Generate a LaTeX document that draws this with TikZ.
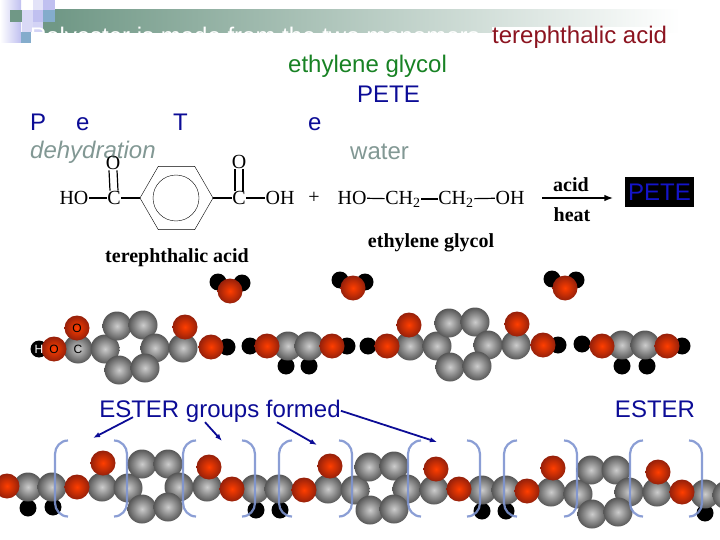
\documentclass[tikz,border=0pt]{standalone}
\usepackage{fontspec}
\setmainfont{Liberation Sans}
\newfontfamily\chemfont{Liberation Serif}
\usetikzlibrary{arrows.meta,positioning,shapes.geometric}
\definecolor{barGreen}{RGB}{112,152,134}
\definecolor{lavender}{RGB}{192,192,240}
\definecolor{steelTile}{RGB}{132,172,204}
\definecolor{titleBlue}{RGB}{12,12,150}
\definecolor{acidRed}{RGB}{140,20,32}
\definecolor{glycolGreen}{RGB}{24,130,36}
\definecolor{noteGray}{RGB}{130,152,148}
\definecolor{bracketBlue}{RGB}{126,148,208}
\begin{document}
\begin{tikzpicture}[
    x=1pt, y=-1pt,
    slide/.style={inner sep=0pt, anchor=base west, font=\fontsize{24}{28}\selectfont},
    chem/.style={inner sep=0.5pt, font=\chemfont\fontsize{20}{24}\selectfont},
    chemname/.style={inner sep=0pt, font=\chemfont\bfseries\fontsize{20}{24}\selectfont},
    bond/.style={line width=1.2pt},
    hydrogen/.style={circle, inner sep=0pt, minimum size=17pt, fill=black},
    carbon/.style={circle, inner sep=0pt, minimum size=29pt, inner color=black!20, outer color=black!66},
    oxygen/.style={circle, inner sep=0pt, minimum size=25pt, inner color={rgb,255:red,255;green,62;blue,0}, outer color={rgb,255:red,150;green,32;blue,10}},
    atomtext/.style={inner sep=0pt, font=\fontsize{12}{14}\selectfont},
    bracket/.style={draw=bracketBlue, line width=2.2pt, opacity=0.9},
    arrow/.style={-{Latex[length=2.5mm]}, line width=1.8pt, draw=titleBlue}
  ]
    \useasboundingbox (0,0) rectangle (720,540);
    \shade[left color=white, right color=lavender] (0,0) rectangle (21,43);
    \fill[lavender!45] (33,0) rectangle (43,10);
    \fill[lavender] (43,0) rectangle (55,10);
    \fill[barGreen] (10,10) rectangle (22,22);
    \fill[lavender!60] (22,10) rectangle (33,32);
    \fill[lavender] (33,10) rectangle (43,22);
    \fill[steelTile] (43,10) rectangle (55,22);
    \fill[lavender!70] (33,22) rectangle (43,32);
    \fill[steelTile] (21,32) rectangle (31,43);
    \shade[left color=barGreen, right color=white] (55,10) rectangle (680,33);
    \fill[barGreen] (43,22) rectangle (55,33);
    \node[slide, text=white] (title) at (30,45) {Polyester is made from the two monomers};
    \node[slide, text=acidRed, fill=white] (acidWord) at (492,44) {terephthalic acid};
    \node[slide, text=glycolGreen] (glycolWord) at (288,73) {ethylene glycol};
    \node[slide, text=titleBlue] (peteWord) at (357,103) {PETE};
    \node[slide, text=titleBlue] (letterP) at (30,131) {P};
    \node[slide, text=titleBlue] (letterE) at (76,131) {e};
    \node[slide, text=titleBlue] (letterT) at (173,131) {T};
    \node[slide, text=titleBlue] (letterF) at (308,131) {e};
    \node[slide, text=noteGray, font=\fontsize{24}{28}\selectfont\itshape] (dehydration) at (30,159) {dehydration};
    \node[slide, text=noteGray] (waterWord) at (350,160) {water};

    \node[chem] (hoLeft) at (74,198) {HO};
    \node[chem] (cLeft) at (114,198) {C};
    \node[chem] (oLeft) at (113,163) {O};
    \node[draw, regular polygon, regular polygon sides=6, minimum size=73pt, inner sep=0pt] (ring) at (176.5,198) {};
    \node[draw, circle, minimum size=46pt, inner sep=0pt] (ringCircle) at (176,198) {};
    \node[chem] (cRight) at (239,198) {C};
    \node[chem] (oRight) at (239,162) {O};
    \node[chem] (ohRight) at (280,198) {OH};
    \node[chem] (plus) at (314,198) {+};
    \node[chem] (hoGlycol) at (352,198) {HO};
    \node[chem] (chFirst) at (403,199) {CH\textsubscript{2}};
    \node[chem] (chSecond) at (456,199) {CH\textsubscript{2}};
    \node[chem] (ohGlycol) at (510,198) {OH};
    \node[chemname] (acidAbove) at (571,185) {acid};
    \node[chemname] (heatBelow) at (572,215) {heat};
    \node[fill=black, text={rgb,255:red,20;green,20;blue,200}, minimum width=69pt, minimum height=30pt, inner sep=0pt, font=\fontsize{24}{28}\selectfont] (peteBox) at (659.5,192) {PETE};
    \node[chemname] (acidName) at (177,258) {terephthalic acid};
    \node[chemname] (glycolName) at (431,243) {ethylene glycol};
    \draw[bond] (hoLeft) -- (cLeft);
    \draw[bond] (cLeft) -- (ring.west);
    \draw[bond] ([xshift=-4pt]oLeft.south) -- ([xshift=-4pt]cLeft.north);
    \draw[bond] ([xshift=4pt]oLeft.south) -- ([xshift=4pt]cLeft.north);
    \draw[bond] (ring.east) -- (cRight);
    \draw[bond] ([xshift=-4pt]oRight.south) -- ([xshift=-4pt]cRight.north);
    \draw[bond] ([xshift=4pt]oRight.south) -- ([xshift=4pt]cRight.north);
    \draw[bond] (cRight) -- (ohRight);
    \draw[bond] (hoGlycol) -- (chFirst);
    \draw[bond] (chFirst) -- (chSecond);
    \draw[bond] (chSecond) -- (ohGlycol);
    \coordinate (arrowStart) at (542,198);
    \coordinate (arrowEnd) at (613,198);
    \draw[-{Latex[length=3mm]}, line width=1.2pt] (arrowStart) -- (arrowEnd);

    \foreach \x/\y [count=\i] in {218/282,242/283,340/280,365/282,552/279,576/280,
      39/349,227/347,250/346,347/346,286/366,309/366,368/346,558/345,582/344,682/346,622/366,647/366,
      28/508,53/507,256/510,280/510,482/511,506/511,705/513}
      \node[hydrogen] (h\i) at (\x,\y) {};
    \foreach \x/\y [count=\i] in {78/349,105/349,117/326,143/325,155/348,119/370,145/368,183/348,288/346,309/346,
      410/346,437/346,449/323,475/322,488/345,450/367,477/366,516/345,622/345,645/345,
      28/487,52/487,102/487,128/488,142/464,168/464,179/487,142/509,168/507,207/487,255/489,279/489,328/489,
      355/490,369/467,394/466,407/489,370/510,394/509,434/490,482/490,506/490,551/492,578/494,591/470,616/470,
      629/492,592/514,618/512,657/492,705/494,727/495}
      \node[carbon] (c\i) at (\x,\y) {};
    \foreach \x/\y [count=\i] in {230/291,353/288,565/288,
      54/349,77/328,185/327,211/347,267/346,332/346,387/346,409/325,517/324,543/345,602/346,667/346,
      7/486,77/487,103/463,209/467,232/489,304/490,330/466,436/469,459/489,527/491,553/468,658/472,682/492}
      \node[oxygen] (o\i) at (\x,\y) {};
    \node[atomtext, text=white] (labelH) at (39,349) {H};
    \node[atomtext] (labelO) at (54,349) {O};
    \node[atomtext] (labelC) at (78,349) {C};
    \node[atomtext] (labelOtop) at (77,328) {O};

    \foreach \a/\b in {55/127,183/255,279/352,408/480,504/577,630/702} {
      \draw[bracket] (\a+13,440.5) to[out=180, in=90] (\a,454) -- (\a,503) to[out=-90, in=180] (\a+13,516.5);
      \draw[bracket] (\b-13,440.5) to[out=0, in=90] (\b,454) -- (\b,503) to[out=-90, in=0] (\b-13,516.5);
    }

    \node[slide, text=titleBlue, anchor=base] (esterGroups) at (220,417) {ESTER groups formed};
    \node[slide, text=titleBlue, anchor=base] (esterWord) at (655,417) {ESTER};
    \coordinate (esterA) at (93,438);
    \coordinate (esterB) at (222,441);
    \coordinate (esterC) at (317,445);
    \coordinate (esterD) at (437,442);
    \draw[arrow] ([xshift=-87pt,yshift=5pt]esterGroups.south) -- (esterA);
    \draw[arrow] ([xshift=-15pt]esterGroups.south) -- (esterB);
    \draw[arrow] ([xshift=57pt]esterGroups.south) -- (esterC);
    \draw[arrow] (esterGroups.east) -- (esterD);
  \end{tikzpicture}
\end{document}
